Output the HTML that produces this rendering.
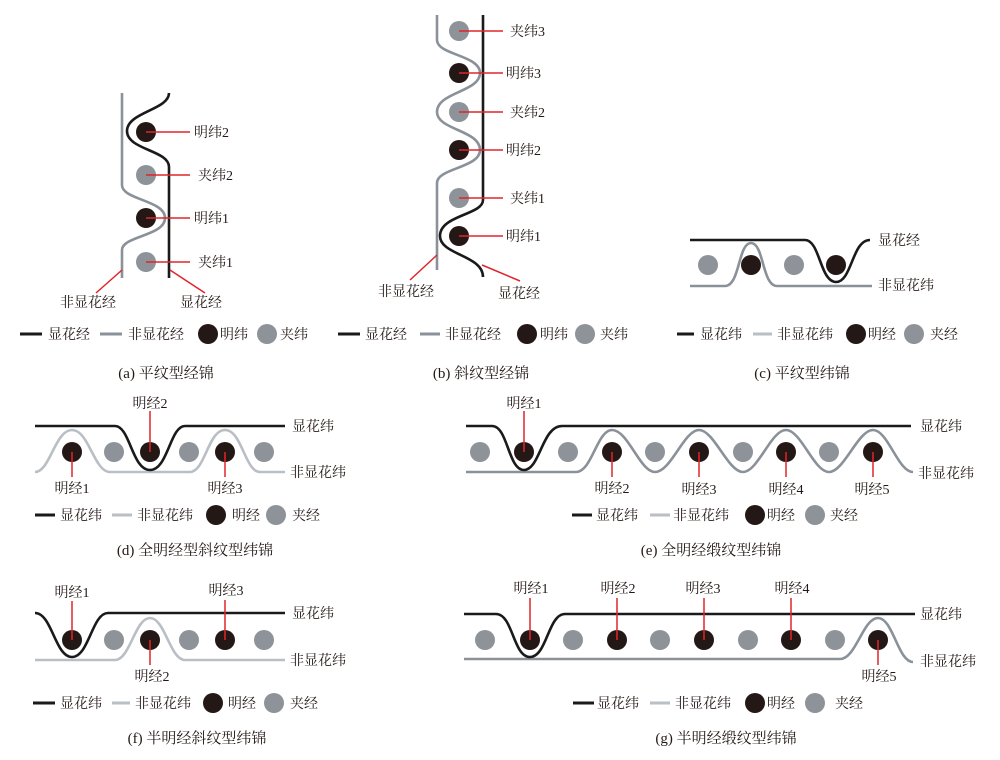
<!DOCTYPE html>
<html><head><meta charset="utf-8"><style>
html,body{margin:0;padding:0;background:#fff;}
svg{display:block;}
text{font-family:"Liberation Serif","Noto Serif CJK SC","Noto Sans CJK SC",serif;fill:#231815;}
.l{font-size:14px;}
.c{font-size:15px;}
</style></head><body>
<svg width="1000" height="760" viewBox="0 0 1000 760" xmlns="http://www.w3.org/2000/svg">
<defs>
<style>
.bk{fill:none;stroke:#1a1a1a;stroke-width:2.6}
.gy{fill:none;stroke:#8b9199;stroke-width:2.6}
.lg{fill:none;stroke:#b9bfc5;stroke-width:2.6}
.rd{stroke:#e0252a;stroke-width:1.5}
.cb{fill:#231815}
.cg{fill:#8d9399}
</style>
</defs>

<!-- (a) -->
<path class="gy" d="M122,93 V185 C122,200 165,200 165,218 C165,236 122,236 122,250 V278"/>
<path class="bk" d="M169,93 C169,110 127,112 127,131 C127,150 169,150 169,167 V278"/>
<circle class="cb" cx="146" cy="132" r="10"/>
<circle class="cg" cx="146" cy="175" r="10"/>
<circle class="cb" cx="146" cy="218" r="10"/>
<circle class="cg" cx="146" cy="262" r="10"/>
<line class="rd" x1="146" y1="132" x2="190" y2="132"/>
<line class="rd" x1="146" y1="175" x2="190" y2="175"/>
<line class="rd" x1="146" y1="218" x2="190" y2="218"/>
<line class="rd" x1="146" y1="262" x2="190" y2="262"/>
<text class="l" x="194" y="137">明纬2</text>
<text class="l" x="198" y="180">夹纬2</text>
<text class="l" x="194" y="223">明纬1</text>
<text class="l" x="198" y="267">夹纬1</text>
<line class="rd" x1="122" y1="270" x2="96" y2="293"/>
<line class="rd" x1="170" y1="270" x2="205" y2="293"/>
<text class="l" x="60" y="307">非显花经</text>
<text class="l" x="180" y="307">显花经</text>
<line x1="20" y1="334" x2="42" y2="334" stroke="#1a1a1a" stroke-width="3"/>
<text class="l" x="48" y="339">显花经</text>
<line x1="100" y1="334" x2="122" y2="334" stroke="#8b9199" stroke-width="3"/>
<text class="l" x="128" y="339">非显花经</text>
<circle class="cb" cx="208" cy="334" r="10"/>
<text class="l" x="220" y="339">明纬</text>
<circle class="cg" cx="267" cy="334" r="10"/>
<text class="l" x="280" y="339">夹纬</text>
<text class="c" x="166" y="378" text-anchor="middle">(a) 平纹型经锦</text>

<!-- (b) -->
<path class="gy" d="M437,15 V40 C437,55 480,55 480,73 C480,92 437,92 437,112 C437,130 480,130 480,150 C480,168 437,168 437,183 V270"/>
<path class="bk" d="M483,15 V200 C483,215 440,215 440,236 C440,255 483,255 483,277"/>
<circle class="cg" cx="459" cy="31" r="10"/>
<circle class="cb" cx="459" cy="73" r="10"/>
<circle class="cg" cx="459" cy="112" r="10"/>
<circle class="cb" cx="459" cy="150" r="10"/>
<circle class="cg" cx="459" cy="198" r="10"/>
<circle class="cb" cx="459" cy="236" r="10"/>
<line class="rd" x1="459" y1="31" x2="503" y2="31"/>
<line class="rd" x1="459" y1="73" x2="503" y2="73"/>
<line class="rd" x1="459" y1="112" x2="503" y2="112"/>
<line class="rd" x1="459" y1="150" x2="503" y2="150"/>
<line class="rd" x1="459" y1="198" x2="503" y2="198"/>
<line class="rd" x1="459" y1="236" x2="503" y2="236"/>
<text class="l" x="510" y="36">夹纬3</text>
<text class="l" x="506" y="78">明纬3</text>
<text class="l" x="510" y="117">夹纬2</text>
<text class="l" x="506" y="155">明纬2</text>
<text class="l" x="510" y="203">夹纬1</text>
<text class="l" x="506" y="241">明纬1</text>
<line class="rd" x1="437" y1="255" x2="410" y2="280"/>
<line class="rd" x1="482" y1="265" x2="520" y2="281"/>
<text class="l" x="378" y="296">非显花经</text>
<text class="l" x="498" y="298">显花经</text>
<line x1="338" y1="334" x2="360" y2="334" stroke="#1a1a1a" stroke-width="3"/>
<text class="l" x="365" y="339">显花经</text>
<line x1="420" y1="334" x2="440" y2="334" stroke="#8b9199" stroke-width="3"/>
<text class="l" x="445" y="339">非显花经</text>
<circle class="cb" cx="527" cy="334" r="10"/>
<text class="l" x="540" y="339">明纬</text>
<circle class="cg" cx="585" cy="334" r="10"/>
<text class="l" x="600" y="339">夹纬</text>
<text class="c" x="481" y="378" text-anchor="middle">(b) 斜纹型经锦</text>

<!-- (c) -->
<path class="bk" d="M690,240 H805 C820,240 820,282 836,282 C852,282 852,240 870,240"/>
<path class="gy" d="M690,286 H725 C740,286 738,243 751,243 C764,243 762,286 777,286 H872"/>
<circle class="cg" cx="708" cy="265" r="10"/>
<circle class="cb" cx="751" cy="265" r="10"/>
<circle class="cg" cx="794" cy="265" r="10"/>
<circle class="cb" cx="836" cy="265" r="10"/>
<text class="l" x="878" y="245">显花经</text>
<text class="l" x="878" y="290">非显花纬</text>
<line x1="677" y1="334" x2="694" y2="334" stroke="#1a1a1a" stroke-width="3"/>
<text class="l" x="700" y="339">显花纬</text>
<line x1="753" y1="334" x2="772" y2="334" stroke="#b9bfc5" stroke-width="3"/>
<text class="l" x="777" y="339">非显花纬</text>
<circle class="cb" cx="856" cy="334" r="10"/>
<text class="l" x="868" y="339">明经</text>
<circle class="cg" cx="914" cy="334" r="10"/>
<text class="l" x="930" y="339">夹经</text>
<text class="c" x="802" y="378" text-anchor="middle">(c) 平纹型纬锦</text>

<!-- (d) -->
<path class="lg" d="M35,472 C50,472 55,430 72,430 C89,430 94,472 110,472 H190 C205,472 208,430 225,430 C242,430 245,472 260,472 H285"/>
<path class="bk" d="M35,426 H115 C130,426 132,470 150,470 C168,470 170,426 185,426 H285"/>
<circle class="cb" cx="72" cy="452" r="10"/>
<circle class="cg" cx="114" cy="452" r="10"/>
<circle class="cb" cx="150" cy="452" r="10"/>
<circle class="cg" cx="189" cy="452" r="10"/>
<circle class="cb" cx="225" cy="452" r="10"/>
<circle class="cg" cx="264" cy="452" r="10"/>
<line class="rd" x1="72" y1="452" x2="72" y2="477"/>
<line class="rd" x1="150" y1="411" x2="150" y2="452"/>
<line class="rd" x1="225" y1="452" x2="225" y2="477"/>
<text class="l" x="72" y="493" text-anchor="middle">明经1</text>
<text class="l" x="150" y="408" text-anchor="middle">明经2</text>
<text class="l" x="225" y="493" text-anchor="middle">明经3</text>
<text class="l" x="292" y="431">显花纬</text>
<text class="l" x="290" y="477">非显花纬</text>
<line x1="35" y1="515" x2="55" y2="515" stroke="#1a1a1a" stroke-width="3"/>
<text class="l" x="60" y="520">显花纬</text>
<line x1="112" y1="515" x2="132" y2="515" stroke="#b9bfc5" stroke-width="3"/>
<text class="l" x="137" y="520">非显花纬</text>
<circle class="cb" cx="216" cy="515" r="10"/>
<text class="l" x="232" y="520">明经</text>
<circle class="cg" cx="276" cy="515" r="10"/>
<text class="l" x="292" y="520">夹经</text>
<text class="c" x="195" y="555" text-anchor="middle">(d) 全明经型斜纹型纬锦</text>

<!-- (f) -->
<path class="lg" d="M35,660 H115 C130,660 135,618 150,618 C165,618 170,660 185,660 H285"/>
<path class="bk" d="M35,613 C52,613 55,657 72,657 C89,657 92,613 108,613 H285"/>
<circle class="cb" cx="72" cy="640" r="10"/>
<circle class="cg" cx="114" cy="640" r="10"/>
<circle class="cb" cx="150" cy="640" r="10"/>
<circle class="cg" cx="189" cy="640" r="10"/>
<circle class="cb" cx="225" cy="640" r="10"/>
<circle class="cg" cx="264" cy="640" r="10"/>
<line class="rd" x1="72" y1="601" x2="72" y2="640"/>
<line class="rd" x1="150" y1="640" x2="150" y2="665"/>
<line class="rd" x1="225" y1="600" x2="225" y2="640"/>
<text class="l" x="72" y="597" text-anchor="middle">明经1</text>
<text class="l" x="152" y="681" text-anchor="middle">明经2</text>
<text class="l" x="226" y="595" text-anchor="middle">明经3</text>
<text class="l" x="292" y="618">显花纬</text>
<text class="l" x="290" y="665">非显花纬</text>
<line x1="33" y1="703" x2="55" y2="703" stroke="#1a1a1a" stroke-width="3"/>
<text class="l" x="60" y="708">显花纬</text>
<line x1="112" y1="703" x2="130" y2="703" stroke="#b9bfc5" stroke-width="3"/>
<text class="l" x="135" y="708">非显花纬</text>
<circle class="cb" cx="213" cy="703" r="10"/>
<text class="l" x="228" y="708">明经</text>
<circle class="cg" cx="274" cy="703" r="10"/>
<text class="l" x="290" y="708">夹经</text>
<text class="c" x="197" y="743" text-anchor="middle">(f) 半明经斜纹型纬锦</text>

<!-- (e) -->
<path class="gy" d="M466,472 H576 C592,472 597,430 612,430 C628,430 640,472 655,472 C671,472 684,430 699,430 C714,430 728,472 743,472 C758,472 771,430 786,430 C801,430 814,472 829,472 C844,472 858,430 873,430 C888,430 898,472 913,472"/>
<path class="bk" d="M466,426 H492 C508,426 508,470 524,470 C540,470 542,426 562,426 H911"/>
<circle class="cg" cx="480" cy="452" r="10"/>
<circle class="cb" cx="524" cy="452" r="10"/>
<circle class="cg" cx="568" cy="452" r="10"/>
<circle class="cb" cx="612" cy="452" r="10"/>
<circle class="cg" cx="655" cy="452" r="10"/>
<circle class="cb" cx="699" cy="452" r="10"/>
<circle class="cg" cx="743" cy="452" r="10"/>
<circle class="cb" cx="786" cy="452" r="10"/>
<circle class="cg" cx="829" cy="452" r="10"/>
<circle class="cb" cx="873" cy="452" r="10"/>
<line class="rd" x1="524" y1="411" x2="524" y2="452"/>
<line class="rd" x1="612" y1="452" x2="612" y2="477"/>
<line class="rd" x1="699" y1="452" x2="699" y2="477"/>
<line class="rd" x1="786" y1="452" x2="786" y2="477"/>
<line class="rd" x1="873" y1="452" x2="873" y2="477"/>
<text class="l" x="524" y="408" text-anchor="middle">明经1</text>
<text class="l" x="612" y="493" text-anchor="middle">明经2</text>
<text class="l" x="699" y="494" text-anchor="middle">明经3</text>
<text class="l" x="786" y="494" text-anchor="middle">明经4</text>
<text class="l" x="872" y="494" text-anchor="middle">明经5</text>
<text class="l" x="920" y="431">显花纬</text>
<text class="l" x="918" y="478">非显花纬</text>
<line x1="572" y1="515" x2="592" y2="515" stroke="#1a1a1a" stroke-width="3"/>
<text class="l" x="596" y="520">显花纬</text>
<line x1="650" y1="515" x2="670" y2="515" stroke="#b9bfc5" stroke-width="3"/>
<text class="l" x="673" y="520">非显花纬</text>
<circle class="cb" cx="755" cy="515" r="10"/>
<text class="l" x="767" y="520">明经</text>
<circle class="cg" cx="815" cy="515" r="10"/>
<text class="l" x="830" y="520">夹经</text>
<text class="c" x="711" y="555" text-anchor="middle">(e) 全明经缎纹型纬锦</text>

<!-- (g) -->
<path class="gy" d="M464,659 H840 C856,659 863,618 878,618 C893,618 898,662 913,662"/>
<path class="bk" d="M464,614 H496 C513,614 513,657 530,657 C547,657 548,614 565,614 H915"/>
<circle class="cg" cx="485" cy="640" r="10"/>
<circle class="cb" cx="530" cy="640" r="10"/>
<circle class="cg" cx="573" cy="640" r="10"/>
<circle class="cb" cx="617" cy="640" r="10"/>
<circle class="cg" cx="660" cy="640" r="10"/>
<circle class="cb" cx="704" cy="640" r="10"/>
<circle class="cg" cx="748" cy="640" r="10"/>
<circle class="cb" cx="791" cy="640" r="10"/>
<circle class="cg" cx="835" cy="640" r="10"/>
<circle class="cb" cx="878" cy="640" r="10"/>
<line class="rd" x1="530" y1="598" x2="530" y2="640"/>
<line class="rd" x1="617" y1="598" x2="617" y2="640"/>
<line class="rd" x1="704" y1="598" x2="704" y2="640"/>
<line class="rd" x1="791" y1="598" x2="791" y2="640"/>
<line class="rd" x1="878" y1="640" x2="878" y2="665"/>
<text class="l" x="531" y="593" text-anchor="middle">明经1</text>
<text class="l" x="618" y="593" text-anchor="middle">明经2</text>
<text class="l" x="703" y="593" text-anchor="middle">明经3</text>
<text class="l" x="792" y="593" text-anchor="middle">明经4</text>
<text class="l" x="879" y="681" text-anchor="middle">明经5</text>
<text class="l" x="920" y="619">显花纬</text>
<text class="l" x="920" y="666">非显花纬</text>
<line x1="573" y1="703" x2="594" y2="703" stroke="#1a1a1a" stroke-width="3"/>
<text class="l" x="597" y="708">显花纬</text>
<line x1="650" y1="703" x2="670" y2="703" stroke="#b9bfc5" stroke-width="3"/>
<text class="l" x="675" y="708">非显花纬</text>
<circle class="cb" cx="755" cy="703" r="10"/>
<text class="l" x="767" y="708">明经</text>
<circle class="cg" cx="815" cy="703" r="10"/>
<text class="l" x="835" y="708">夹经</text>
<text class="c" x="726" y="743" text-anchor="middle">(g) 半明经缎纹型纬锦</text>
</svg>
</body></html>
